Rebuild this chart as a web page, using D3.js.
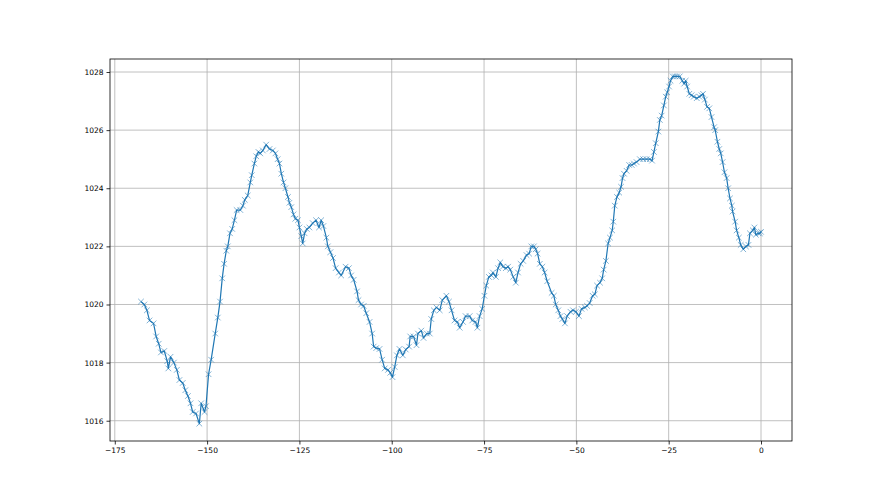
<!DOCTYPE html>
<html>
<head>
<meta charset="utf-8">
<script src="https://cdn.jsdelivr.net/npm/d3@7"></script>
<style>
  body { margin: 0; background: #fff; }
  svg text { font-family: "DejaVu Sans", sans-serif; }
</style>
</head>
<body>
<svg></svg>
<script>
// hours before now
var hours = [
  -167.9, -167.0, -166.3, -165.6, -164.5, -163.8, -163.1, -162.5, -161.6, -160.8,
  -160.5, -159.9, -159.0, -158.2, -157.5, -156.6, -155.9, -155.2, -154.5, -153.9,
  -153.0, -152.1, -151.6, -150.7, -150.3, -149.6, -148.9, -147.8, -147.1, -146.5,
  -145.9, -145.4, -144.8, -144.4, -143.8, -143.2, -142.6, -142.0, -141.0, -140.3,
  -139.8, -139.0, -138.3, -137.9, -137.2, -136.7, -136.1, -135.6, -134.9, -134.0,
  -133.1, -132.2, -131.5, -130.9, -130.4, -129.9, -129.3, -128.8, -128.1, -127.7,
  -127.2, -126.6, -126.1, -125.4, -125.0, -124.5, -124.1, -123.6, -123.0, -122.3,
  -121.4, -120.5, -119.7, -119.1, -118.5, -117.7, -117.3, -116.6, -115.9, -115.2,
  -114.3, -113.7, -112.5, -111.6, -111.0, -110.3, -109.4, -109.0, -108.3, -107.6,
  -106.9, -106.0, -105.3, -104.9, -104.2, -103.3, -102.6, -101.9, -101.0, -100.4,
  -99.8, -99.2, -98.6, -97.9, -97.0, -96.2, -95.3, -95.0, -94.1, -93.3,
  -92.9, -92.0, -91.4, -90.5, -89.7, -89.3, -88.6, -87.9, -87.0, -86.3,
  -85.2, -84.5, -83.8, -83.0, -82.2, -81.6, -80.7, -80.0, -78.9, -78.2,
  -77.3, -76.8, -76.2, -75.5, -74.9, -74.4, -73.7, -73.0, -72.6, -71.8,
  -71.2, -70.6, -69.9, -69.1, -68.5, -67.9, -67.1, -66.4, -65.8, -65.1,
  -64.4, -63.5, -62.8, -62.2, -61.5, -61.0, -60.5, -59.9, -59.2, -58.6,
  -57.9, -56.7, -56.1, -55.6, -54.9, -54.3, -53.8, -53.1, -52.5, -51.6,
  -50.9, -50.1, -49.3, -48.6, -47.7, -47.1, -46.4, -45.6, -45.0, -44.4,
  -43.6, -43.0, -42.6, -42.0, -41.4, -40.9, -40.3, -40.0, -39.6, -39.0,
  -38.4, -37.9, -37.5, -37.1, -36.4, -35.7, -35.0, -34.4, -33.7, -32.8,
  -31.9, -31.0, -30.1, -29.5, -29.0, -28.5, -27.8, -27.4, -26.9, -26.3,
  -25.8, -25.4, -24.9, -24.5, -23.9, -23.3, -22.7, -22.0, -21.3, -20.8,
  -20.4, -20.0, -19.4, -18.8, -18.2, -17.4, -16.7, -16.1, -15.7, -15.2,
  -14.6, -14.0, -13.4, -12.7, -12.4, -11.8, -11.3, -10.9, -10.4, -9.9,
  -9.3, -8.9, -8.4, -7.9, -7.7, -7.0, -6.6, -6.0, -5.5, -4.8,
  -4.1, -3.4, -3.0, -2.2, -1.8, -1.4, -0.7, -0.3, 0.0
];

// pressure, hPa
var pressure = [
  1020.1, 1020.0, 1019.8, 1019.45, 1019.35, 1018.9, 1018.65, 1018.35, 1018.4, 1018.05,
  1017.8, 1018.2, 1018.0, 1017.75, 1017.4, 1017.3, 1017.05, 1016.85, 1016.6, 1016.3,
  1016.25, 1015.9, 1016.6, 1016.3, 1016.5, 1017.6, 1018.1, 1019.0, 1019.55, 1020.1,
  1020.9, 1021.4, 1021.85, 1022.0, 1022.45, 1022.6, 1022.9, 1023.25, 1023.25, 1023.4,
  1023.6, 1023.75, 1024.2, 1024.45, 1024.85, 1025.1, 1025.25, 1025.2, 1025.3, 1025.5,
  1025.35, 1025.3, 1025.2, 1025.0, 1024.85, 1024.5, 1024.2, 1024.0, 1023.7, 1023.5,
  1023.35, 1023.1, 1022.95, 1022.9, 1022.65, 1022.35, 1022.1, 1022.45, 1022.6, 1022.65,
  1022.8, 1022.9, 1022.65, 1022.9, 1022.7, 1022.3, 1022.0, 1021.8, 1021.6, 1021.25,
  1021.1, 1021.0, 1021.3, 1021.25, 1021.0, 1020.85, 1020.45, 1020.15, 1020.0, 1019.95,
  1019.7, 1019.4, 1019.0, 1018.55, 1018.5, 1018.47, 1018.1, 1017.8, 1017.75, 1017.65,
  1017.5, 1017.85, 1018.25, 1018.47, 1018.25, 1018.45, 1018.55, 1018.9, 1018.9, 1018.6,
  1019.0, 1019.1, 1018.85, 1019.0, 1019.0, 1019.5, 1019.8, 1019.9, 1019.8, 1020.15,
  1020.3, 1020.1, 1019.8, 1019.45, 1019.4, 1019.2, 1019.4, 1019.6, 1019.6, 1019.45,
  1019.4, 1019.2, 1019.6, 1019.85, 1020.3, 1020.65, 1020.95, 1021.0, 1021.1, 1020.95,
  1021.25, 1021.45, 1021.3, 1021.25, 1021.3, 1021.2, 1020.95, 1020.75, 1021.1, 1021.4,
  1021.5, 1021.7, 1021.75, 1022.0, 1022.0, 1021.9, 1021.75, 1021.4, 1021.3, 1021.1,
  1020.8, 1020.4, 1020.3, 1020.0, 1019.8, 1019.6, 1019.5, 1019.35, 1019.6, 1019.75,
  1019.8, 1019.75, 1019.6, 1019.85, 1019.9, 1019.95, 1020.05, 1020.3, 1020.35, 1020.65,
  1020.75, 1020.9, 1021.2, 1021.5, 1022.1, 1022.3, 1022.55, 1022.85, 1023.4, 1023.7,
  1023.85, 1024.05, 1024.35, 1024.5, 1024.6, 1024.8, 1024.8, 1024.85, 1024.9, 1025.0,
  1025.0, 1025.0, 1025.0, 1024.95, 1025.25, 1025.55, 1025.95, 1026.35, 1026.5, 1026.85,
  1027.15, 1027.3, 1027.5, 1027.7, 1027.85, 1027.85, 1027.85, 1027.85, 1027.7, 1027.6,
  1027.7, 1027.5, 1027.25, 1027.2, 1027.15, 1027.1, 1027.15, 1027.2, 1027.25, 1027.05,
  1026.8, 1026.75, 1026.45, 1026.1, 1026.0, 1025.6, 1025.35, 1025.2, 1024.9, 1024.55,
  1024.35, 1024.0, 1023.65, 1023.4, 1023.2, 1022.85, 1022.55, 1022.3, 1022.05, 1021.9,
  1022.0, 1022.05, 1022.45, 1022.55, 1022.65, 1022.4, 1022.45, 1022.45, 1022.5
];

var xTicks = [-175, -150, -125, -100, -75, -50, -25, 0];
var yTicks = [1016, 1018, 1020, 1022, 1024, 1026, 1028];

var data = hours.map(function(h, i) { return {h: h, p: pressure[i]}; });

var width = 880, height = 495;
var margin = {left: 110, right: 88, top: 59, bottom: 54};
var innerW = width - margin.left - margin.right;
var innerH = height - margin.top - margin.bottom;

var svg = d3.select("svg")
    .attr("width", width)
    .attr("height", height);

// 5% padding like matplotlib
var xExt = d3.extent(hours), yExt = d3.extent(pressure);
var xPad = (xExt[1] - xExt[0]) * 0.05, yPad = (yExt[1] - yExt[0]) * 0.05;

var x = d3.scaleLinear()
    .domain([xExt[0] - xPad, xExt[1] + xPad])
    .range([0, innerW]);
var y = d3.scaleLinear()
    .domain([yExt[0] - yPad, yExt[1] + yPad])
    .range([innerH, 0]);

var g = svg.append("g")
    .attr("transform", "translate(" + margin.left + "," + margin.top + ")");

// grid
g.append("g").selectAll("line")
    .data(xTicks).enter().append("line")
    .attr("x1", d => x(d)).attr("x2", d => x(d))
    .attr("y1", 0).attr("y2", innerH)
    .attr("stroke", "#b0b0b0").attr("stroke-width", 0.8);
g.append("g").selectAll("line")
    .data(yTicks).enter().append("line")
    .attr("x1", 0).attr("x2", innerW)
    .attr("y1", d => y(d)).attr("y2", d => y(d))
    .attr("stroke", "#b0b0b0").attr("stroke-width", 0.8);

// line
var line = d3.line().x(d => x(d.h)).y(d => y(d.p));
g.append("path")
    .datum(data)
    .attr("fill", "none")
    .attr("stroke", "#1f77b4")
    .attr("stroke-width", 1.2)
    .attr("stroke-linejoin", "round")
    .attr("d", line);

// x markers
var m = 2.8;
g.append("g").selectAll("path")
    .data(data).enter().append("path")
    .attr("d", d => {
      var cx = x(d.h), cy = y(d.p);
      return "M" + (cx - m) + "," + (cy - m) + "L" + (cx + m) + "," + (cy + m) +
             "M" + (cx - m) + "," + (cy + m) + "L" + (cx + m) + "," + (cy - m);
    })
    .attr("stroke", "#1f77b4")
    .attr("stroke-opacity", 0.7)
    .attr("stroke-width", 0.8)
    .attr("fill", "none");

// axes
var xAxis = g.append("g")
    .attr("transform", "translate(0," + innerH + ")")
    .call(d3.axisBottom(x).tickValues(xTicks).tickSize(3.5).tickPadding(3).tickSizeOuter(0)
      .tickFormat(d => d < 0 ? "\u2212" + Math.abs(d) : d));
var yAxis = g.append("g")
    .call(d3.axisLeft(y).tickValues(yTicks).tickSize(3.5).tickPadding(3).tickSizeOuter(0)
      .tickFormat(d3.format("d")));

[xAxis, yAxis].forEach(function(a) {
  a.select(".domain").remove();
  a.selectAll(".tick line").attr("stroke", "#000").attr("stroke-width", 0.8);
  a.selectAll(".tick text").attr("fill", "#000").style("font-size", "7.5px");
});

// frame
g.append("rect")
    .attr("width", innerW).attr("height", innerH)
    .attr("fill", "none").attr("stroke", "#000").attr("stroke-width", 0.8);
</script>
</body>
</html>
